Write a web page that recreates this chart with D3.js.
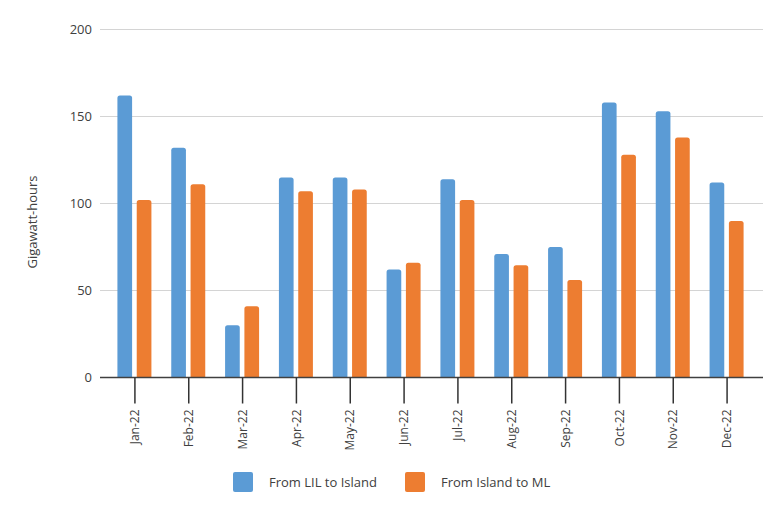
<!DOCTYPE html>
<html><head><meta charset="utf-8">
<script src="https://cdn.jsdelivr.net/npm/d3@7"></script>
<style>body{margin:0;background:#fff}text{font-family:"Open Sans",sans-serif}</style>
</head><body><svg id="c" width="780" height="511"></svg>
<script>
const months = ["Jan-22","Feb-22","Mar-22","Apr-22","May-22","Jun-22","Jul-22","Aug-22","Sep-22","Oct-22","Nov-22","Dec-22"];
const seriesNames = ["From LIL to Island","From Island to ML"];
const lilToIsland = [162,132,30,115,115,62,114,71,75,158,153,112];
const islandToML = [102,111,41,107,108,66,102,64.5,56,128,138,90];
const yTicks = [0,50,100,150,200];
const colors = ["#5b9bd5","#ed7d31"];

const svg = d3.select("#c");
const gridL = 100, gridR = 763;
const y = d3.scaleLinear().domain([0,200]).range([377.5,29.5]);
const x = d3.scaleBand().domain(months).range([108,754]);
const x1 = d3.scaleBand().domain([0,1]).range([-17,17]).paddingInner(0.24);

// gridlines
svg.append("g").selectAll("line").data(yTicks.slice(1)).join("line")
  .attr("x1",gridL).attr("x2",gridR).attr("y1",d=>y(d)).attr("y2",d=>y(d))
  .attr("stroke","#d4d4d4").attr("stroke-width",1);

// y labels
const yAxis = d3.axisLeft(y).tickValues(yTicks).tickSize(0).tickPadding(0);
const ya = svg.append("g").attr("transform",`translate(92,0)`).call(yAxis);
ya.select(".domain").remove();
ya.selectAll("text").attr("font-size",13).attr("fill","#404040").attr("font-family","Open Sans");

svg.append("text").attr("transform","translate(37,222) rotate(-90)")
  .attr("text-anchor","middle").attr("font-size",13).attr("fill","#404040").text("Gigawatt-hours");

// bars
const data = months.map((m,i)=>({m, vals:[lilToIsland[i],islandToML[i]]}));
const r = 2.5;
function barPath(x0,w,yTop,yBase){
  return `M${x0},${yBase}V${yTop+r}Q${x0},${yTop} ${x0+r},${yTop}H${x0+w-r}Q${x0+w},${yTop} ${x0+w},${yTop+r}V${yBase}Z`;
}
const g = svg.append("g").selectAll("g").data(data).join("g")
  .attr("transform",d=>`translate(${x(d.m)+x.bandwidth()/2-0.5},0)`);
g.selectAll("path").data(d=>d.vals.map((v,k)=>({v,k}))).join("path")
  .attr("d",d=>barPath(x1(d.k),x1.bandwidth(),y(d.v),y(0)))
  .attr("fill",d=>colors[d.k]);

// x axis
svg.append("line").attr("x1",gridL).attr("x2",gridR).attr("y1",y(0)).attr("y2",y(0))
  .attr("stroke","#404040").attr("stroke-width",1.5);
const xAxis = d3.axisBottom(x).tickSize(26).tickPadding(6);
const xa = svg.append("g").attr("transform",`translate(0,${y(0)})`).call(xAxis);
xa.select(".domain").remove();
xa.selectAll(".tick line").attr("stroke","#333").attr("stroke-width",1.5);
xa.selectAll("text").attr("font-size",12).attr("fill","#404040").attr("font-family","Open Sans")
  .attr("text-anchor","end").attr("dy","0.35em")
  .attr("transform","translate(0,32) rotate(-90)").attr("x",0).attr("y",0);

// legend
const legX = [233,405];
const lg = svg.append("g").selectAll("g").data(seriesNames).join("g")
  .attr("transform",(d,i)=>`translate(${legX[i]},472)`);
lg.append("rect").attr("width",20).attr("height",20).attr("rx",2).attr("fill",(d,i)=>colors[i]);
lg.append("text").attr("x",36).attr("y",15).attr("font-size",13).attr("fill","#404040").text(d=>d);
</script></body></html>
